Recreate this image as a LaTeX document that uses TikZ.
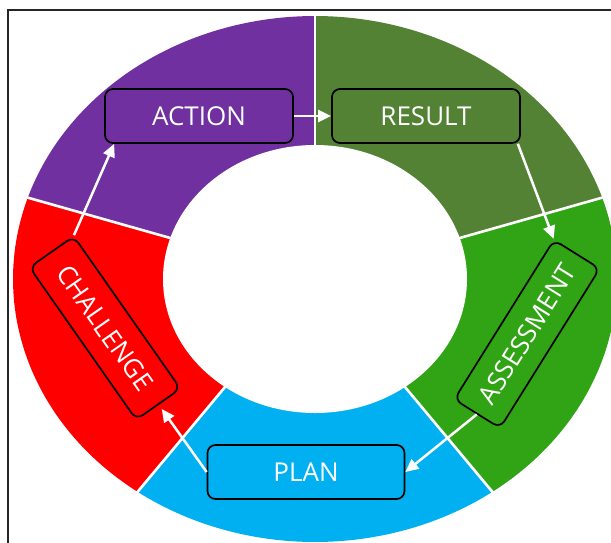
\documentclass[tikz,border=0pt]{standalone}
\usepackage{fontspec}
\setmainfont{Open Sans}
\usetikzlibrary{arrows.meta,calc}
\definecolor{cpurple}{HTML}{7030A0}
\definecolor{cdkgreen}{HTML}{548235}
\definecolor{cgreen}{HTML}{31A416}
\definecolor{cblue}{HTML}{00B0F0}
\definecolor{cred}{HTML}{FF0000}
\begin{document}
\begin{tikzpicture}[x=1pt,y=-1pt,
  stepbox/.style={draw=black, line width=1.7pt, rounded corners=8pt,
    minimum width=188pt, minimum height=54pt, inner sep=0pt,
    text=white, font=\fontsize{26}{30}\selectfont},
  flow/.style={draw=white, line width=2.5pt, -{Triangle[length=13pt,width=12pt]}},
  sep/.style={draw=white, line width=2.6pt}]
\useasboundingbox (0,0) rectangle (611,542);
\clip (0,0) rectangle (611,542);
\fill[white] (0,0) rectangle (611,542);
\draw[line width=1.6pt, draw=black!85] (8,570) -- (8,10) -- (640,10);
\coordinate (c) at (315,279);
% ring wedges
\fill[cpurple] (c) -- plot[domain=90:162,samples=60] ({315+302*cos(\x)},{279-263*sin(\x)}) -- cycle;
\fill[cred] (c) -- plot[domain=162:234,samples=60] ({315+302*cos(\x)},{279-263*sin(\x)}) -- cycle;
\fill[cblue] (c) -- plot[domain=234:306,samples=60] ({315+302*cos(\x)},{279-263*sin(\x)}) -- cycle;
\fill[cgreen] (c) -- plot[domain=306:378,samples=60] ({315+302*cos(\x)},{279-263*sin(\x)}) -- cycle;
\fill[cdkgreen] (c) -- plot[domain=18:90,samples=60] ({315+302*cos(\x)},{279-263*sin(\x)}) -- cycle;
\foreach \a in {18,90,162,234,306}
  \draw[sep] (c) -- ({315+304*cos(\a)},{279-265*sin(\a)});
\fill[white] (c) ellipse [x radius=152, y radius=134];
% boxes
\node[stepbox, fill=cpurple] (act) at (199,116) {ACTION};
\node[stepbox, fill=cdkgreen] (res) at (426,116) {RESULT};
\node[stepbox, fill=cgreen, rotate=58] (ass) at (527,334) {ASSESSMENT};
\node[stepbox, fill=cblue, minimum width=197pt] (pln) at (306,472) {PLAN};
\node[stepbox, fill=cred, rotate=-55, minimum width=186pt] (cha) at (105,328) {CHALLENGE};
% arrows
\draw[flow] (act.east) -- (res.west);
\draw[flow] ([xshift=-3pt]res.south east) -- (ass.north east);
\draw[flow] (ass.west) -- (pln.east);
\draw[flow, shorten >=5pt] (pln.west) -- (cha.east);
\draw[flow] (cha.north west) -- ([xshift=10pt]act.south west);
\end{tikzpicture}
\end{document}
